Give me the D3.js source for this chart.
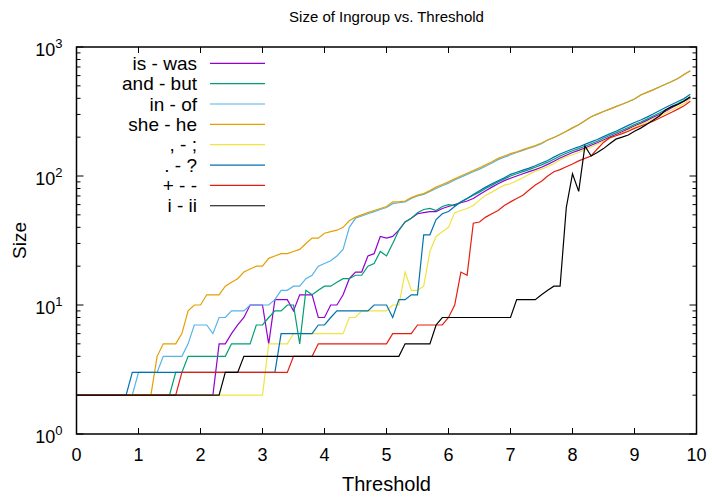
<!DOCTYPE html>
<html>
<head>
<meta charset="utf-8">
<script src="https://cdn.jsdelivr.net/npm/d3@7"></script>
<style>
  body { margin: 0; background: #fff; }
  svg text { font-family: "Liberation Sans", Arial, sans-serif; fill: #000; }
</style>
</head>
<body>
<div id="chart"></div>
<script>
// each series is a list of [threshold, size] vertices
var isWas = [[0,2],[2.2,2],[2.3,5],[2.4,5],[2.5,6],[2.6,7],[2.7,8],[2.8,10],[3.0,10],[3.1,5],[3.2,11],[3.4,11],[3.5,9],[3.6,12],[3.8,12],[3.9,8],[4.0,8],[4.1,10],[4.2,10],[4.3,12],[4.4,16],[4.5,18],[4.6,18],[4.7,24],[4.8,25],[4.9,34],[5.0,33],[5.1,34],[5.2,38],[5.3,44],[5.4,47],[5.5,51],[5.6,52],[5.7,53],[5.8,53],[5.9,56],[6.0,58],[6.1,60],[6.2,62],[6.3,64],[6.4,67],[6.5,72],[6.6,77],[6.7,82],[6.8,87],[6.9,92],[7.0,96],[7.1,100],[7.2,104],[7.3,108],[7.4,112],[7.5,117],[7.6,123],[7.7,130],[7.8,138],[7.9,145],[8.0,152],[8.1,158],[8.2,165],[8.3,173],[8.4,181],[8.5,190],[8.6,200],[8.7,210],[8.8,220],[8.9,232],[9.0,244],[9.1,256],[9.2,270],[9.3,285],[9.4,300],[9.5,318],[9.6,338],[9.7,358],[9.8,380],[9.9,405]];

var andBut = [[0,2],[1.5,2],[1.6,3],[1.7,3],[1.8,4],[2.4,4],[2.5,5],[2.8,5],[2.9,7],[3.0,7],[3.1,8],[3.2,9],[3.3,9],[3.4,10],[3.5,10],[3.6,5],[3.7,13],[3.8,12],[3.9,13],[4.0,14],[4.1,14],[4.2,15],[4.3,16],[4.4,16],[4.5,17],[4.6,17],[4.7,20],[4.8,21],[4.9,26],[5.0,24],[5.1,30],[5.2,38],[5.3,44],[5.4,47],[5.5,52],[5.6,55],[5.7,56],[5.8,54],[5.9,58],[6.0,60],[6.1,59],[6.2,63],[6.3,67],[6.4,71],[6.5,75],[6.6,80],[6.7,85],[6.8,90],[6.9,95],[7.0,100],[7.1,104],[7.2,108],[7.3,112],[7.4,117],[7.5,122],[7.6,128],[7.7,135],[7.8,143],[7.9,150],[8.0,157],[8.1,163],[8.2,170],[8.3,178],[8.4,186],[8.5,196],[8.6,206],[8.7,216],[8.8,226],[8.9,238],[9.0,250],[9.1,262],[9.2,276],[9.3,292],[9.4,308],[9.5,326],[9.6,345],[9.7,365],[9.8,385],[9.9,410]];

var inOf = [[0,2],[0.9,2],[1.0,3],[1.3,3],[1.4,4],[1.7,4],[1.8,5],[1.9,7],[2.0,7],[2.1,7],[2.2,6],[2.3,8],[2.4,8],[2.5,9],[2.7,9],[2.8,10],[3.1,10],[3.2,11],[3.3,13],[3.4,13],[3.5,14],[3.6,14],[3.7,16],[3.8,17],[3.9,20],[4.0,21],[4.1,22],[4.2,24],[4.3,27],[4.4,40],[4.5,47],[4.6,49],[4.7,51],[4.8,53],[4.9,55],[5.0,57],[5.1,61],[5.2,62],[5.3,63],[5.4,67],[5.5,70],[5.6,72],[5.7,76],[5.8,80],[5.9,84],[6.0,88],[6.1,93],[6.2,98],[6.3,103],[6.4,108],[6.5,113],[6.6,119],[6.7,126],[6.8,134],[6.9,140],[7.0,146],[7.1,152],[7.2,158],[7.3,164],[7.4,170],[7.5,178],[7.6,190],[7.7,199],[7.8,210],[7.9,222],[8.0,236],[8.1,250],[8.2,268],[8.3,288],[8.4,302],[8.5,316],[8.6,330],[8.7,345],[8.8,360],[8.9,376],[9.0,395],[9.1,425],[9.2,445],[9.3,465],[9.4,490],[9.5,515],[9.6,540],[9.7,570],[9.8,612],[9.9,655]];

var sheHe = [[0,2],[1.2,2],[1.3,4],[1.4,5],[1.6,5],[1.7,6],[1.8,9],[1.9,10],[2.0,10],[2.1,12],[2.3,12],[2.4,14],[2.5,15],[2.6,16],[2.7,18],[2.8,19],[2.9,20],[3.0,20],[3.1,23],[3.2,24],[3.3,25],[3.4,25],[3.5,26],[3.6,27],[3.7,30],[3.8,33],[3.9,33],[4.0,36],[4.1,37],[4.2,38],[4.3,40],[4.4,45],[4.5,48],[4.6,50],[4.7,52],[4.8,54],[4.9,56],[5.0,58],[5.1,63],[5.2,63],[5.3,64],[5.4,68],[5.5,71],[5.6,73],[5.7,77],[5.8,82],[5.9,86],[6.0,90],[6.1,95],[6.2,100],[6.3,105],[6.4,110],[6.5,116],[6.6,122],[6.7,129],[6.8,137],[6.9,143],[7.0,149],[7.1,154],[7.2,160],[7.3,166],[7.4,172],[7.5,180],[7.6,190],[7.7,199],[7.8,210],[7.9,222],[8.0,236],[8.1,250],[8.2,268],[8.3,288],[8.4,302],[8.5,316],[8.6,330],[8.7,345],[8.8,360],[8.9,376],[9.0,395],[9.1,425],[9.2,445],[9.3,465],[9.4,490],[9.5,515],[9.6,540],[9.7,570],[9.8,612],[9.9,655]];

var commaSemi = [[0,2],[3.0,2],[3.1,5],[3.4,5],[3.5,6],[4.3,6],[4.4,8],[4.5,8],[4.6,9],[5.0,9],[5.1,10],[5.2,10],[5.3,18],[5.4,13],[5.5,13],[5.6,14],[5.7,26],[5.8,34],[5.9,37],[6.0,40],[6.1,52],[6.2,54],[6.3,56],[6.4,59],[6.5,65],[6.6,71],[6.7,75],[6.8,80],[6.9,85],[7.0,87],[7.1,92],[7.2,97],[7.3,103],[7.4,109],[7.5,113],[7.6,118],[7.7,125],[7.8,133],[7.9,141],[8.0,146],[8.1,152],[8.2,160],[8.3,168],[8.4,176],[8.5,186],[8.6,195],[8.7,205],[8.8,215],[8.9,226],[9.0,240],[9.1,250],[9.2,262],[9.3,276],[9.4,290],[9.5,308],[9.6,325],[9.7,345],[9.8,365],[9.9,395]];

var periodQuestion = [[0,2],[0.8,2],[0.9,3],[3.2,3],[3.3,6],[3.8,6],[3.9,7],[4.0,7],[4.1,8],[4.2,9],[4.7,9],[4.8,10],[5.0,10],[5.1,8],[5.2,11],[5.3,11],[5.4,12],[5.5,12],[5.6,35],[5.7,35],[5.8,46],[5.9,51],[6.0,53],[6.1,58],[6.2,63],[6.3,67],[6.4,72],[6.5,77],[6.6,82],[6.7,87],[6.8,92],[6.9,97],[7.0,103],[7.1,107],[7.2,111],[7.3,115],[7.4,120],[7.5,126],[7.6,132],[7.7,140],[7.8,148],[7.9,155],[8.0,162],[8.1,168],[8.2,176],[8.3,184],[8.4,192],[8.5,202],[8.6,212],[8.7,222],[8.8,234],[8.9,247],[9.0,260],[9.1,272],[9.2,286],[9.3,302],[9.4,320],[9.5,340],[9.6,358],[9.7,378],[9.8,398],[9.9,430]];

var plusMinus = [[0,2],[1.6,2],[1.7,3],[3.4,3],[3.5,4],[3.8,4],[3.9,5],[5.0,5],[5.1,6],[5.4,6],[5.5,7],[5.9,7],[6.0,8],[6.1,10],[6.2,18],[6.3,17],[6.4,43],[6.5,44],[6.6,48],[6.7,51],[6.8,54],[6.9,59],[7.0,63],[7.1,67],[7.2,71],[7.3,78],[7.4,85],[7.5,91],[7.6,100],[7.7,108],[7.8,112],[7.9,118],[8.0,124],[8.1,131],[8.2,137],[8.3,143],[8.4,162],[8.5,182],[8.6,198],[8.7,205],[8.8,213],[8.9,222],[9.0,234],[9.1,244],[9.2,254],[9.3,266],[9.4,280],[9.5,296],[9.6,312],[9.7,330],[9.8,350],[9.9,380]];

var iII = [[0,2],[2.3,2],[2.4,3],[2.6,3],[2.7,4],[5.2,4],[5.3,5],[5.7,5],[5.8,7],[5.9,8],[7.0,8],[7.1,11],[7.4,11],[7.5,12],[7.6,13],[7.7,14],[7.8,14],[7.9,57],[8.0,104],[8.1,76],[8.2,171],[8.3,143],[8.4,152],[8.5,163],[8.6,178],[8.7,193],[8.8,200],[8.9,208],[9.0,222],[9.1,235],[9.2,252],[9.3,270],[9.4,292],[9.5,325],[9.6,345],[9.7,360],[9.8,382],[9.9,412]];

var seriesNames = ["is - was", "and - but", "in - of", "she - he", ", - ;", ". - ?", "+ - -", "i - ii"];
var seriesData = [isWas, andBut, inOf, sheHe, commaSemi, periodQuestion, plusMinus, iII];
var seriesColors = ["#9400d3", "#009e73", "#56b4e9", "#e69f00", "#f0e442", "#0072b2", "#e51e10", "#000000"];

var xTicks = [0, 1, 2, 3, 4, 5, 6, 7, 8, 9, 10];
var yDecades = [1, 10, 100, 1000];

var width = 712, height = 498;
var margin = {top: 47, right: 15.5, bottom: 64, left: 76.5};

var svg = d3.select("#chart").append("svg")
    .attr("width", width)
    .attr("height", height);

var xScale = d3.scaleLinear()
    .domain([0, 10])
    .range([margin.left, width - margin.right]);

var yScale = d3.scaleLog()
    .domain([1, 1000])
    .range([height - margin.bottom, margin.top]);

var x0 = xScale.range()[0], x1 = xScale.range()[1];
var yb = yScale.range()[0], yt = yScale.range()[1];

// ticks, all pointing into the plot (gnuplot style, mirrored)
var allY = yScale.ticks();
function isMajor(v) { return Math.abs(Math.log10(v) - Math.round(Math.log10(v))) < 1e-9; }

var tickG = svg.append("g").attr("stroke", "#000").attr("stroke-width", 1);

tickG.selectAll(".xtb").data(xTicks).enter().append("line")
    .attr("x1", function(d){ return xScale(d); })
    .attr("x2", function(d){ return xScale(d); })
    .attr("y1", yb).attr("y2", yb - 6);
tickG.selectAll(".xtt").data(xTicks).enter().append("line")
    .attr("x1", function(d){ return xScale(d); })
    .attr("x2", function(d){ return xScale(d); })
    .attr("y1", yt).attr("y2", yt + 6);

tickG.selectAll(".ytl").data(allY).enter().append("line")
    .attr("x1", x0)
    .attr("x2", function(d){ return x0 + (isMajor(d) ? 7 : 4); })
    .attr("y1", function(d){ return yScale(d); })
    .attr("y2", function(d){ return yScale(d); });
tickG.selectAll(".ytr").data(allY).enter().append("line")
    .attr("x1", x1)
    .attr("x2", function(d){ return x1 - (isMajor(d) ? 7 : 4); })
    .attr("y1", function(d){ return yScale(d); })
    .attr("y2", function(d){ return yScale(d); });

// tick labels
svg.selectAll(".xlab").data(xTicks).enter().append("text")
    .attr("x", function(d){ return xScale(d); })
    .attr("y", yb + 27)
    .attr("text-anchor", "middle")
    .style("font-size", "18px")
    .text(function(d){ return d; });

var ylab = svg.selectAll(".ylab").data(yDecades).enter().append("text")
    .attr("x", x0 - 14)
    .attr("y", function(d){ return yScale(d) + 8.7; })
    .attr("text-anchor", "end")
    .style("font-size", "18px");
ylab.append("tspan").text("10");
ylab.append("tspan")
    .attr("dy", -8)
    .style("font-size", "13px")
    .text(function(d){ return Math.round(Math.log10(d)); });

// series
var line = d3.line()
    .x(function(d){ return xScale(d[0]); })
    .y(function(d){ return yScale(d[1]); });

svg.append("g").selectAll("path").data(seriesData).enter().append("path")
    .attr("d", line)
    .attr("fill", "none")
    .attr("stroke", function(d, i){ return seriesColors[i]; })
    .attr("stroke-width", 1.2)
    .attr("stroke-linejoin", "miter");

// border
svg.append("rect")
    .attr("x", x0).attr("y", yt)
    .attr("width", x1 - x0).attr("height", yb - yt)
    .attr("fill", "none")
    .attr("stroke", "#000")
    .attr("stroke-width", 1.5);

// legend
var legend = svg.append("g").selectAll("g").data(seriesNames).enter().append("g")
    .attr("transform", function(d, i){ return "translate(0," + (63.3 + 20.35 * i) + ")"; });
legend.append("text")
    .attr("x", 197)
    .attr("y", 6.5)
    .attr("text-anchor", "end")
    .style("font-size", "19px")
    .text(function(d){ return d; });
legend.append("line")
    .attr("x1", 210).attr("x2", 265)
    .attr("y1", 0).attr("y2", 0)
    .attr("stroke", function(d, i){ return seriesColors[i]; })
    .attr("stroke-width", 1.2);

// titles
svg.append("text")
    .attr("x", (x0 + x1) / 2)
    .attr("y", 22)
    .attr("text-anchor", "middle")
    .style("font-size", "15px")
    .text("Size of Ingroup vs. Threshold");

svg.append("text")
    .attr("x", (x0 + x1) / 2)
    .attr("y", 491)
    .attr("text-anchor", "middle")
    .style("font-size", "20px")
    .text("Threshold");

svg.append("text")
    .attr("transform", "translate(26," + ((yt + yb) / 2) + ") rotate(-90)")
    .attr("text-anchor", "middle")
    .style("font-size", "19px")
    .text("Size");
</script>
</body>
</html>
